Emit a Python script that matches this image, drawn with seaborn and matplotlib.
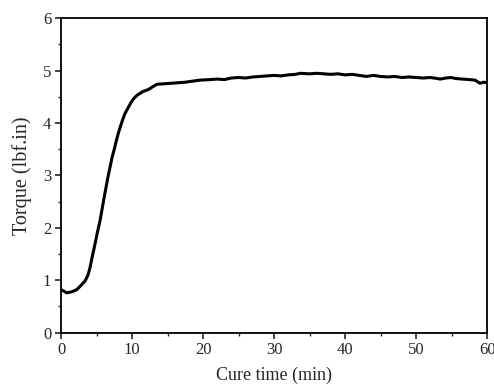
import numpy as np
import pandas as pd
import matplotlib
matplotlib.use("Agg")
import matplotlib.pyplot as plt
import seaborn as sns
from matplotlib.ticker import MultipleLocator

# valores
cure_time = [0.0, 0.3, 0.8, 1.5, 2.2, 2.8, 3.4, 3.8, 4.1, 4.4, 4.8, 5.1, 5.5, 5.8,
             6.1, 6.4, 6.7, 7.0, 7.2, 7.5, 7.8, 8.1, 8.4, 8.7, 9.0, 9.4, 9.8, 10.2,
             10.7, 11.5, 12.3, 13.0, 13.5, 14.5, 15.5, 16.5, 17.5,
             18.5, 19.6, 21, 22, 23, 24, 25, 26, 27, 28, 29, 30, 31, 32, 33, 33.7,
             35, 36, 37, 38, 39, 40, 41, 42, 43, 44, 45, 46, 47, 48, 49, 50, 51, 52,
             53, 53.4, 54.2, 54.9, 55.6, 56.5, 57.5, 58.3, 59.0, 59.5, 60.0]
torque = [0.82, 0.80, 0.76, 0.78, 0.82, 0.90, 0.99, 1.10, 1.25, 1.45, 1.70, 1.90,
          2.14, 2.37, 2.60, 2.82, 3.03, 3.22, 3.35, 3.50, 3.67, 3.82, 3.95, 4.07,
          4.18, 4.28, 4.38, 4.46, 4.53, 4.60, 4.64, 4.70, 4.74, 4.75, 4.76,
          4.77, 4.78, 4.80, 4.82, 4.83, 4.84, 4.83, 4.86, 4.87, 4.86, 4.88, 4.89,
          4.90, 4.91, 4.90, 4.92, 4.93, 4.95, 4.94, 4.95, 4.94, 4.93, 4.94, 4.92,
          4.93, 4.91, 4.89, 4.91, 4.89, 4.88, 4.89, 4.87, 4.88, 4.87, 4.86, 4.87,
          4.85, 4.84, 4.86, 4.87, 4.85, 4.84, 4.83, 4.82, 4.76, 4.78, 4.77]

df = pd.DataFrame({"t": cure_time, "torque": torque})

sns.set_style("white")
plt.rcParams["font.family"] = ["Liberation Serif", "DejaVu Serif"]

fig = plt.figure(figsize=(4.94, 3.84), dpi=100)
ax = fig.add_axes([0.1235, 0.1336, 0.8625, 0.8188])

sns.lineplot(data=df, x="t", y="torque", color="black", linewidth=2.2, ax=ax)

ax.set_xlim(0, 60)
ax.set_ylim(0, 6)
ax.xaxis.set_major_locator(MultipleLocator(10))
ax.xaxis.set_minor_locator(MultipleLocator(5))
ax.yaxis.set_major_locator(MultipleLocator(1))
ax.yaxis.set_minor_locator(MultipleLocator(0.5))
ax.tick_params(which="major", direction="out", length=4, width=1.2, labelsize=12,
               bottom=True, left=True, top=False, right=False, pad=3)
ax.tick_params(which="minor", direction="out", length=2.5, width=1.0,
               bottom=True, left=True, top=False, right=False)
for s in ax.spines.values():
    s.set_color("black")
    s.set_linewidth(1.3)

ax.set_xlabel("Cure time (min)", fontsize=13, labelpad=6)
ax.set_ylabel("Torque (lbf.in)", fontsize=14.5, labelpad=8)

fig.savefig("out.png", dpi=100)
